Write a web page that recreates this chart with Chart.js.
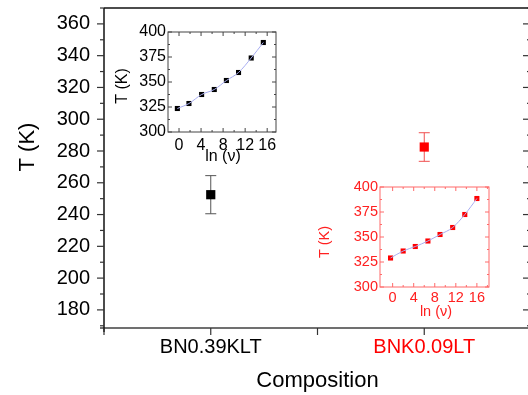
<!DOCTYPE html>
<html>
<head>
<meta charset="utf-8">
<script src="https://cdn.jsdelivr.net/npm/chart.js@4.4.1/dist/chart.umd.min.js"></script>
<style>
  html, body { margin: 0; padding: 0; background: #fff; overflow: hidden; width: 528px; height: 395px; }
  canvas { position: absolute; }
  #mainChart { left: 0; top: 0; }
  #insetBlack { left: 110px; top: 22px; }
  #insetRed { left: 315px; top: 177px; }
</style>
</head>
<body>
<canvas id="mainChart" width="540" height="395"></canvas>
<canvas id="insetBlack" width="175" height="150"></canvas>
<canvas id="insetRed" width="185" height="150"></canvas>
<script>
// main plot data
const categories = ['BN0.39KLT', 'BNK0.09LT'];
const tempValues = [252.5, 282.5];
const tempErrors = [12, 9];
const categoryColors = ['#000000', '#ff0000'];
const errorColors = ['#555555', '#f05050'];
const yTicks = [180, 200, 220, 240, 260, 280, 300, 320, 340, 360];

// inset data
const lnNuBlack = [-0.3, 1.8, 4.1, 6.4, 8.6, 10.8, 13.1, 15.3];
const tempBlack = [323.5, 328.5, 337.5, 342.5, 351.5, 359.5, 374, 389.5];
const lnNuRed = [-0.4, 2.0, 4.3, 6.7, 9.0, 11.4, 13.7, 16.0];
const tempRed = [329, 336, 340.5, 346, 352.5, 359.5, 372.5, 388.5];
const insetXTicks = [0, 4, 8, 12, 16];
const insetYTicks = [300, 325, 350, 375, 400];

const FONT = '"Liberation Sans", Arial, sans-serif';
Chart.defaults.font.family = FONT;

function line(ctx, x1, y1, x2, y2) {
    ctx.beginPath();
    ctx.moveTo(x1, y1);
    ctx.lineTo(x2, y2);
    ctx.stroke();
}

// keep the plot box where we put it, labels may hang over the edges
function noScalePadding(s) {
    s.paddingTop = 0;
    s.paddingBottom = 0;
    s.paddingLeft = 0;
    s.paddingRight = 0;
}

const mainDecor = {
    id: 'mainDecor',
    beforeDatasetsDraw(chart) {
        const { ctx, scales: { x, y } } = chart;
        ctx.save();
        ctx.lineWidth = 1;
        categories.forEach((c, i) => {
            const px = x.getPixelForValue(i + 1);
            const top = y.getPixelForValue(tempValues[i] + tempErrors[i]);
            const bot = y.getPixelForValue(tempValues[i] - tempErrors[i]);
            ctx.strokeStyle = errorColors[i];
            line(ctx, px, top, px, bot);
            line(ctx, px - 5.5, top, px + 5.5, top);
            line(ctx, px - 5.5, bot, px + 5.5, bot);
        });
        ctx.restore();
    },
    afterDraw(chart) {
        const { ctx, chartArea: a, scales: { x, y } } = chart;
        ctx.save();
        // frame
        ctx.strokeStyle = '#707070';
        ctx.lineWidth = 2;
        line(ctx, a.left - 4, a.bottom, a.right + 10, a.bottom);
        ctx.strokeStyle = '#111';
        ctx.lineWidth = 1.5;
        line(ctx, a.left, a.top, a.right + 10, a.top);
        line(ctx, a.left, a.top, a.left, a.bottom + 4);
        line(ctx, a.right, a.top, a.right, a.bottom);

        // y ticks: majors at labels, minors halfway
        ctx.lineWidth = 1.2;
        ctx.strokeStyle = '#333';
        const minors = yTicks.map(v => v - 10).concat([yTicks[yTicks.length - 1] + 10]);
        yTicks.forEach(v => {
            const py = y.getPixelForValue(v);
            line(ctx, a.left - 7, py, a.left, py);
            line(ctx, a.right - 8, py, a.right, py);
        });
        minors.forEach(v => {
            if (v < y.min || v > y.max) return;
            const py = y.getPixelForValue(v);
            line(ctx, a.left - 4, py, a.left, py);
            line(ctx, a.right - 4, py, a.right, py);
        });
        // x ticks at categories and between them
        [0.5, 1, 1.5, 2, 2.5].forEach(v => {
            const px = x.getPixelForValue(v);
            line(ctx, px, a.bottom, px, a.bottom + 7);
        });

        // axis titles
        ctx.fillStyle = '#000';
        ctx.font = '22px ' + FONT;
        ctx.textAlign = 'center';
        ctx.textBaseline = 'middle';
        ctx.fillText('Composition', (a.left + a.right) / 2, 381);
        ctx.translate(28, 147);
        ctx.rotate(-Math.PI / 2);
        ctx.fillText('T (K)', 0, 0);
        ctx.restore();
    }
};

const insetDecor = {
    id: 'insetDecor',
    afterDraw(chart, args, opts) {
        const { ctx, chartArea: a, scales: { x, y } } = chart;
        ctx.save();
        ctx.strokeStyle = opts.frameColor;
        ctx.lineWidth = 1;
        ctx.strokeRect(a.left, a.top, a.right - a.left, a.bottom - a.top);
        insetXTicks.forEach(v => {
            let px = x.getPixelForValue(v);
            line(ctx, px, a.bottom, px, a.bottom - 4);
            line(ctx, px, a.top, px, a.top + 4);
            px = x.getPixelForValue(v + 2);
            if (px < a.right) {
                line(ctx, px, a.bottom, px, a.bottom - 2);
                line(ctx, px, a.top, px, a.top + 2);
            }
        });
        insetYTicks.forEach(v => {
            let py = y.getPixelForValue(v);
            line(ctx, a.left, py, a.left + 4, py);
            line(ctx, a.right, py, a.right - 4, py);
            py = y.getPixelForValue(v + 12.5);
            if (py > a.top) {
                line(ctx, a.left, py, a.left + 2, py);
                line(ctx, a.right, py, a.right - 2, py);
            }
        });
        ctx.fillStyle = opts.textColor;
        ctx.font = opts.fontSize + 'px ' + FONT;
        ctx.textAlign = 'center';
        ctx.textBaseline = 'middle';
        ctx.fillText('ln (\u03BD)', opts.xTitle[0], opts.xTitle[1]);
        ctx.translate(opts.yTitle[0], opts.yTitle[1]);
        ctx.rotate(-Math.PI / 2);
        ctx.fillText('T (K)', 0, 0);
        ctx.restore();
    }
};

new Chart(document.getElementById('mainChart'), {
    type: 'scatter',
    data: {
        datasets: [{
            data: categories.map((c, i) => ({ x: i + 1, y: tempValues[i] })),
            pointStyle: 'rect',
            pointRadius: 6.5,
            pointHoverRadius: 6.5,
            backgroundColor: categoryColors,
            borderColor: categoryColors,
            borderWidth: 0
        }]
    },
    options: {
        responsive: false,
        devicePixelRatio: 1,
        animation: false,
        events: [],
        layout: { padding: { left: 0, top: 8, right: 9, bottom: 0 } },
        plugins: { legend: { display: false }, tooltip: { enabled: false } },
        scales: {
            x: {
                type: 'linear',
                min: 0.5,
                max: 2.5,
                grid: { display: false, drawTicks: false },
                border: { display: false },
                afterFit: s => { s.height = 67; noScalePadding(s); },
                afterBuildTicks: s => { s.ticks = categories.map((c, i) => ({ value: i + 1 })); },
                ticks: {
                    autoSkip: false,
                    maxRotation: 0,
                    padding: 7,
                    font: { size: 20 },
                    color: ctx => categoryColors[ctx.index] || '#000',
                    callback: v => categories[Math.round(v) - 1]
                }
            },
            y: {
                min: 168.6,
                max: 370,
                grid: { display: false, drawTicks: false },
                border: { display: false },
                afterFit: s => { s.width = 104; noScalePadding(s); },
                afterBuildTicks: s => { s.ticks = yTicks.map(v => ({ value: v })); },
                ticks: { padding: 14, font: { size: 20 }, color: '#000' }
            }
        }
    },
    plugins: [mainDecor]
});

function makeInset(id, xs, ys, cfg) {
    new Chart(document.getElementById(id), {
        type: 'scatter',
        data: {
            datasets: [{
                type: 'line',
                data: xs.map((v, i) => ({ x: v, y: ys[i] })),
                borderColor: '#a9aef2',
                borderWidth: 1,
                pointRadius: 0,
                cubicInterpolationMode: 'monotone',
                fill: false
            }, {
                data: xs.map((v, i) => ({ x: v, y: ys[i] })),
                pointStyle: 'rect',
                pointRadius: 3.6,
                backgroundColor: cfg.pointColor,
                borderWidth: 0
            }]
        },
        options: {
            responsive: false,
            devicePixelRatio: 1,
            animation: false,
            events: [],
            layout: { padding: { left: 0, top: 10, right: cfg.padRight, bottom: 0 } },
            plugins: {
                legend: { display: false },
                tooltip: { enabled: false },
                insetDecor: cfg.decor
            },
            scales: {
                x: {
                    type: 'linear',
                    min: cfg.xMin,
                    max: cfg.xMax,
                    grid: { display: false, drawTicks: false },
                    border: { display: false },
                    afterFit: s => { s.height = 40; noScalePadding(s); },
                    afterBuildTicks: s => { s.ticks = insetXTicks.map(v => ({ value: v })); },
                    ticks: { autoSkip: false, maxRotation: 0, padding: cfg.xPad, font: { size: cfg.decor.fontSize }, color: cfg.decor.textColor }
                },
                y: {
                    min: 300,
                    max: 400,
                    grid: { display: false, drawTicks: false },
                    border: { display: false },
                    afterFit: s => { s.width = cfg.yWidth; noScalePadding(s); },
                    afterBuildTicks: s => { s.ticks = insetYTicks.map(v => ({ value: v })); },
                    ticks: { padding: 2, font: { size: cfg.decor.fontSize }, color: cfg.decor.textColor }
                }
            }
        },
        plugins: [insetDecor]
    });
}

makeInset('insetBlack', lnNuBlack, tempBlack, {
    pointColor: '#000',
    xMin: -2, xMax: 17.6,
    padRight: 9, yWidth: 58, xPad: 4,
    decor: { frameColor: '#444', textColor: '#000', fontSize: 16, xTitle: [113, 135], yTitle: [13, 64] }
});

makeInset('insetRed', lnNuRed, tempRed, {
    pointColor: '#ff0000',
    xMin: -2.4, xMax: 18.3,
    padRight: 11, yWidth: 65, xPad: 2,
    decor: { frameColor: '#ff6a6a', textColor: '#ff2020', fontSize: 14.5, xTitle: [121, 135], yTitle: [10, 65] }
});
</script>
</body>
</html>
